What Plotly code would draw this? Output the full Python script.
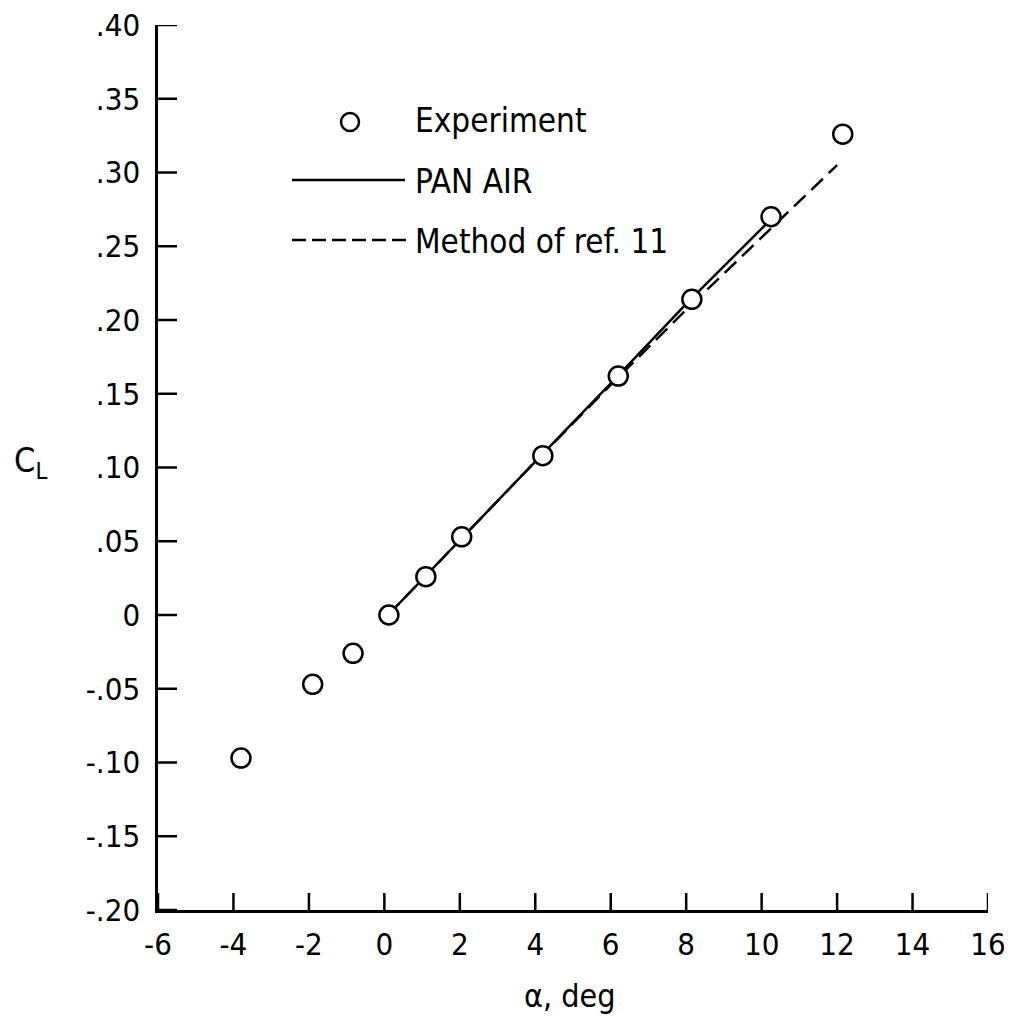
import plotly.graph_objects as go

# Experiment data
exp_alpha = [-3.8, -1.9, -0.83, 0.12, 1.1, 2.05, 4.2, 6.2, 8.15, 10.25, 12.15]
exp_cl = [-0.097, -0.047, -0.026, 0.0, 0.026, 0.053, 0.108, 0.162, 0.214, 0.270, 0.326]

# PAN AIR
pan_alpha = [0.1, 2.0, 4.0, 6.0, 8.0, 10.2]
pan_cl = [0.0, 0.051, 0.104, 0.157, 0.211, 0.267]

# Method of ref. 11
ref_alpha = [0.1, 2.0, 4.0, 6.0, 8.0, 10.0, 12.0]
ref_cl = [0.0, 0.051, 0.104, 0.156, 0.207, 0.256, 0.305]

x_ticks = [-6, -4, -2, 0, 2, 4, 6, 8, 10, 12, 14, 16]
x_ticktext = ["-6", "-4", "-2", "0", "2", "4", "6", "8", "10", "12", "14", "16"]
y_ticks = [-0.20, -0.15, -0.10, -0.05, 0, 0.05, 0.10, 0.15, 0.20, 0.25, 0.30, 0.35, 0.40]
y_ticktext = ["-.20", "-.15", "-.10", "-.05", "0", ".05", ".10", ".15", ".20", ".25", ".30", ".35", ".40"]

FONT = "DejaVu Sans Condensed, Liberation Sans Narrow, sans-serif"
X_RANGE = [-6, 16]
Y_RANGE = [-0.2, 0.4]

# page body has an 8px margin; compensate so the plot lands where the reference has it
OFF = 8
L, R, T, B = 158 - OFF, 24, 25 - OFF, 116
W, H = 1012 - OFF, 1026 - OFF
pw, ph = W - L - R, H - T - B

def px(xp):
    return (xp - OFF - L) / pw

def py(yp):
    return 1 - (yp - OFF - T) / ph

XT_LEN, YT_LEN = 17, 19  # tick lengths in pixels
dy_tick = XT_LEN / ph * (Y_RANGE[1] - Y_RANGE[0])
dx_tick = YT_LEN / pw * (X_RANGE[1] - X_RANGE[0])

fig = go.Figure()

# inside tick marks built from the tick values
tx, ty = [], []
for xt in x_ticks:
    tx += [xt, xt, None]
    ty += [Y_RANGE[0], Y_RANGE[0] + dy_tick, None]
for yt in y_ticks:
    tx += [X_RANGE[0], X_RANGE[0] + dx_tick, None]
    ty += [yt, yt, None]
fig.add_trace(go.Scatter(x=tx, y=ty, mode="lines", cliponaxis=False,
                         line=dict(color="black", width=2.5),
                         hoverinfo="skip", name="ticks"))

fig.add_trace(go.Scatter(x=ref_alpha, y=ref_cl, mode="lines",
                         line=dict(color="black", width=2.5, dash="16px,8px"),
                         name="Method of ref. 11"))
fig.add_trace(go.Scatter(x=pan_alpha, y=pan_cl, mode="lines",
                         line=dict(color="black", width=2.5),
                         name="PAN AIR"))
fig.add_trace(go.Scatter(x=exp_alpha, y=exp_cl, mode="markers",
                         marker=dict(symbol="circle", size=19, color="white",
                                     line=dict(color="black", width=2.5)),
                         name="Experiment"))

shapes = [
    dict(type="circle", xref="paper", yref="paper",
         x0=px(341), x1=px(359), y0=py(131), y1=py(113),
         line=dict(color="black", width=2.5), fillcolor="white"),
    dict(type="line", xref="paper", yref="paper",
         x0=px(292), x1=px(405), y0=py(180), y1=py(180),
         line=dict(color="black", width=2.5)),
    dict(type="line", xref="paper", yref="paper",
         x0=px(292), x1=px(408), y0=py(240), y1=py(240),
         line=dict(color="black", width=2.5, dash="14px,6px")),
]

annotations = [
    dict(text="Experiment", x=px(413), y=py(121), xref="paper", yref="paper",
         xanchor="left", yanchor="middle", showarrow=False,
         font=dict(family=FONT, size=33, color="black")),
    dict(text="PAN AIR", x=px(413), y=py(181), xref="paper", yref="paper",
         xanchor="left", yanchor="middle", showarrow=False,
         font=dict(family=FONT, size=33, color="black")),
    dict(text="Method of ref. 11", x=px(413), y=py(241), xref="paper", yref="paper",
         xanchor="left", yanchor="middle", showarrow=False,
         font=dict(family=FONT, size=33, color="black")),
    dict(text="C<sub>L</sub>", x=px(30), y=py(462), xref="paper", yref="paper",
         xanchor="center", yanchor="middle", showarrow=False,
         font=dict(family=FONT, size=34, color="black")),
    dict(text="α, deg", x=px(570), y=py(996), xref="paper", yref="paper",
         xanchor="center", yanchor="middle", showarrow=False,
         font=dict(family=FONT, size=32, color="black")),
]

fig.update_layout(
    width=W, height=H,
    margin=dict(l=L, r=R, t=T, b=B),
    paper_bgcolor="white", plot_bgcolor="white",
    showlegend=False,
    shapes=shapes, annotations=annotations,
    font=dict(family=FONT, color="black"),
)
fig.update_xaxes(range=X_RANGE, tickvals=x_ticks, ticktext=x_ticktext,
                 ticks="", showline=True, linecolor="black",
                 linewidth=2.5, showgrid=False, zeroline=False, automargin=False,
                 tickfont=dict(family=FONT, size=31, color="black"),
                 ticklabelstandoff=5, ticklabeloverflow="allow")
fig.update_yaxes(range=Y_RANGE, tickvals=y_ticks,
                 ticktext=[t + "\u00a0" for t in y_ticktext],
                 ticks="", showline=True, linecolor="black", linewidth=2.5,
                 showgrid=False, zeroline=False, automargin=False,
                 tickfont=dict(family=FONT, size=31, color="black"),
                 ticklabeloverflow="allow")

fig.write_html("out.html")
